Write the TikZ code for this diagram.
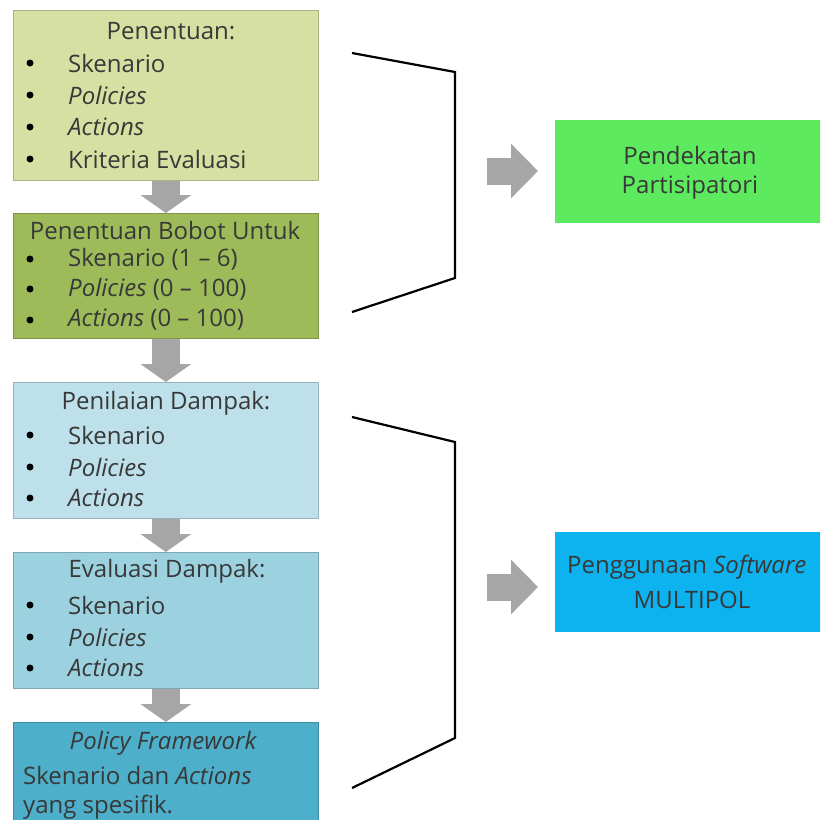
\documentclass[tikz,border=0pt]{standalone}
\usepackage{fontspec}
\setmainfont{Open Sans}
\usetikzlibrary{arrows.meta}
\definecolor{cA}{HTML}{D5E0A2}
\definecolor{cB}{HTML}{9EBB5A}
\definecolor{cC}{HTML}{BDE0EA}
\definecolor{cD}{HTML}{9CD2E0}
\definecolor{cE}{HTML}{4DAFCA}
\definecolor{cG}{HTML}{5EEA5E}
\definecolor{cBl}{HTML}{0DB3EE}
\definecolor{arr}{HTML}{A6A6A6}
\definecolor{txt}{HTML}{383838}
\tikzset{
  stage/.style={rectangle, anchor=north west, minimum width=305pt, inner sep=0pt, draw=#1!80!black, line width=0.7pt, fill=#1},
  side/.style={rectangle, anchor=north west, inner sep=0pt, fill=#1},
  ttl/.style={font=\fontsize{24}{28}\selectfont, text=txt, inner sep=0pt},
  itm/.style={font=\fontsize{24}{28}\selectfont, text=txt, inner sep=0pt, anchor=west},
  bul/.style={circle, fill=black, inner sep=0pt, minimum size=7pt},
  downarrow/.style={draw=arr, line width=28pt, -{Triangle[width=50pt,length=18pt]}, arr},
  rightarrow/.style={draw=arr, line width=27pt, -{Triangle[width=53pt,length=27pt]}, arr},
  brk/.style={draw=black, line width=2.2pt, line join=miter}
}
\begin{document}
\begin{tikzpicture}[x=1pt,y=-1pt]
\useasboundingbox (0,0) rectangle (820,820);
\clip (0,0) rectangle (820,820);
\fill[white] (0,0) rectangle (820,820);

% stage boxes
\node[stage=cA, minimum height=170pt] (b1) at (13,10) {};
\node[stage=cB, minimum height=125pt] (b2) at (13,213) {};
\node[stage=cC, minimum height=136pt] (b3) at (13,382) {};
\node[stage=cD, minimum height=136pt] (b4) at (13,552) {};
\node[stage=cE, minimum height=110pt] (b5) at (13,722) {};

% box 1 text
\node[ttl] (t1) at (171,31) {Penentuan:};
\node[bul] (p11) at (30,63) {}; \node[itm] (i11) at (68,63) {Skenario};
\node[bul] (p12) at (30,95) {}; \node[itm] (i12) at (68,95) {\itshape Policies};
\node[bul] (p13) at (30,127) {}; \node[itm] (i13) at (68,127) {\itshape Actions};
\node[bul] (p14) at (30,159) {}; \node[itm] (i14) at (68,159) {Kriteria Evaluasi};

% box 2 text
\node[ttl] (t2) at (165,230) {Penentuan Bobot Untuk};
\node[bul] (p21) at (30,259) {}; \node[itm] (i21) at (68,259) {Skenario (1 – 6)};
\node[bul] (p22) at (30,289) {}; \node[itm] (i22) at (68,289) {{\itshape Policies} (0 – 100)};
\node[bul] (p23) at (30,320) {}; \node[itm] (i23) at (68,320) {{\itshape Actions} (0 – 100)};

% box 3 text
\node[ttl] (t3) at (166,403) {Penilaian Dampak:};
\node[bul] (p31) at (30,435) {}; \node[itm] (i31) at (68,435) {Skenario};
\node[bul] (p32) at (30,467) {}; \node[itm] (i32) at (68,467) {\itshape Policies};
\node[bul] (p33) at (30,498) {}; \node[itm] (i33) at (68,498) {\itshape Actions};

% box 4 text
\node[ttl] (t4) at (167,571) {Evaluasi Dampak:};
\node[bul] (p41) at (30,605) {}; \node[itm] (i41) at (68,605) {Skenario};
\node[bul] (p42) at (30,637) {}; \node[itm] (i42) at (68,637) {\itshape Policies};
\node[bul] (p43) at (30,668) {}; \node[itm] (i43) at (68,668) {\itshape Actions};

% box 5 text
\node[ttl] (t5) at (163,743) {\itshape Policy Framework};
\node[itm] (i51) at (23,775) {Skenario dan {\itshape Actions}};
\node[itm] (i52) at (23,807) {yang spesifik.};

% down arrows
\draw[downarrow] (b1.south) -- (b2.north);
\draw[downarrow] (b2.south) -- (b3.north);
\draw[downarrow] (b3.south) -- (b4.north);
\draw[downarrow] (b4.south) -- (b5.north);

% side boxes
\node[side=cG, minimum width=280pt, minimum height=103pt] (g) at (555,120) {};
\node[ttl] (g1) at (690,155) {Pendekatan};
\node[ttl] (g2) at (690,188) {Partisipatori};
\node[side=cBl, minimum width=280pt, minimum height=100pt] (bl) at (555,532) {};
\node[ttl, anchor=west] (bl1) at (567,567) {Penggunaan {\itshape Software}};
\node[ttl] (bl2) at (692,600) {MULTIPOL};

% right arrows
\coordinate (r1s) at (487,171);
\coordinate (r1e) at (538,171);
\coordinate (r2s) at (487,587);
\coordinate (r2e) at (538,587);
\draw[rightarrow] (r1s) -- (r1e);
\draw[rightarrow] (r2s) -- (r2e);

% brackets
\coordinate (k1a) at (352,53);
\coordinate (k1b) at (455,72);
\coordinate (k1c) at (455,278);
\coordinate (k1d) at (352,312);
\draw[brk] (k1a) -- (k1b) -- (k1c) -- (k1d);
\coordinate (k2a) at (352,417);
\coordinate (k2b) at (455,442);
\coordinate (k2c) at (455,738);
\coordinate (k2d) at (352,788);
\draw[brk] (k2a) -- (k2b) -- (k2c) -- (k2d);
\end{tikzpicture}
\end{document}
